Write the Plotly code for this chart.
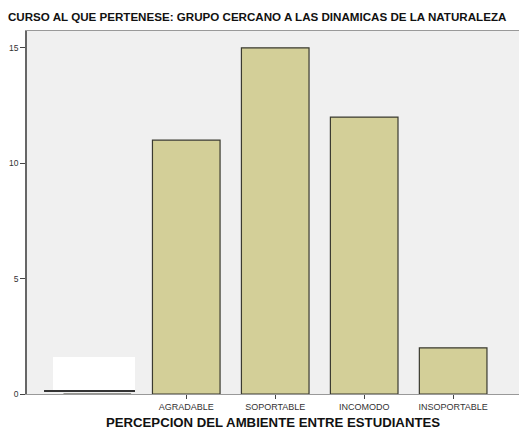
import plotly.graph_objects as go

categories = ["", "AGRADABLE", "SOPORTABLE", "INCOMODO", "INSOPORTABLE"]
counts = [0, 11, 15, 12, 2]
y_ticks = [0, 5, 10, 15]

title_text = "CURSO AL QUE PERTENESE: GRUPO CERCANO A LAS DINAMICAS DE LA NATURALEZA"
x_title = "PERCEPCION DEL AMBIENTE ENTRE ESTUDIANTES"

fig = go.Figure(go.Bar(
    x=list(range(len(categories))),
    y=counts,
    width=0.76,
    marker=dict(color="#d3cf98", line=dict(color="#3a3a30", width=1.2)),
))

fig.update_layout(
    width=519, height=435,
    margin=dict(l=27, r=0, t=31, b=41, autoexpand=False),
    paper_bgcolor="white",
    plot_bgcolor="#f0f0f0",
    showlegend=False,
    font=dict(family="Liberation Sans, Arial, sans-serif", color="#222"),
    title=dict(text="<b>" + title_text + "</b>", xref="container", yref="container",
               x=8/519, xanchor="left", y=1-17/435, yanchor="middle",
               font=dict(size=11.6, color="#111")),
    shapes=[
        dict(type="rect", xref="paper", yref="paper", x0=0.0528, x1=0.2195, y0=0.011, y1=0.102,
             fillcolor="white", line=dict(width=0), layer="above"),
        dict(type="line", xref="paper", yref="paper", x0=0.0346, x1=0.2195, y0=0.008, y1=0.008,
             line=dict(color="#333", width=2), layer="above"),
    ],
)

fig.update_xaxes(
    range=[-0.79, 4.74], automargin=False,
    tickvals=list(range(1, len(categories))), ticktext=categories[1:],
    ticks="outside", ticklen=4, tickcolor="#444",
    tickfont=dict(size=9, color="#333"),
    showgrid=False, zeroline=False,
    showline=True, linecolor="#999", linewidth=1, mirror=True,
    title=dict(text="<b>" + x_title + "</b>", font=dict(size=13.2, color="#111"), standoff=6),
)
fig.update_yaxes(
    range=[0, 15.73], automargin=False,
    tickvals=y_ticks, ticks="outside", ticklen=5, tickcolor="#444",
    tickfont=dict(size=8.5, color="#333"),
    showgrid=False, zeroline=False,
    showline=True, linecolor="#666", linewidth=1.5, mirror=True,
)

fig.write_html("out.html", config={"displayModeBar": False},
               post_script="document.body.style.margin='0';")
